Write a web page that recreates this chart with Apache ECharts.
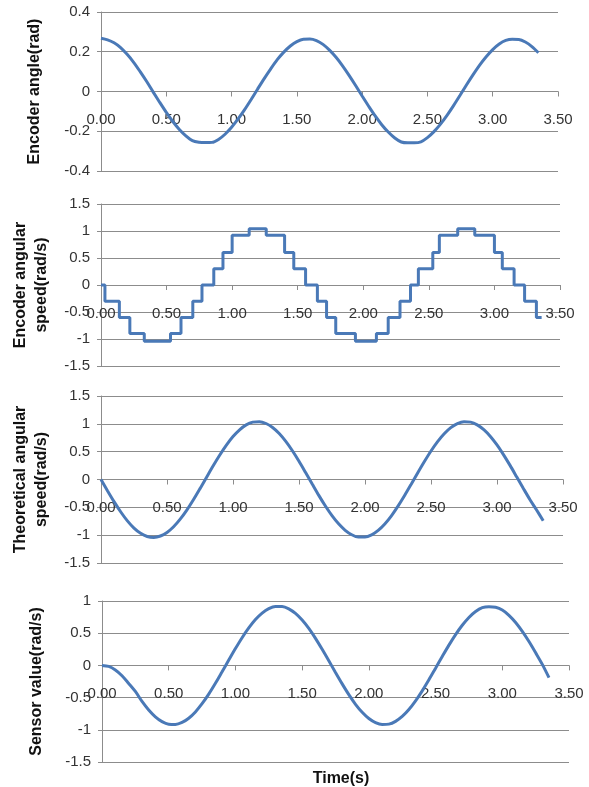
<!DOCTYPE html>
<html>
<head>
<meta charset="utf-8">
<script src="https://cdn.jsdelivr.net/npm/echarts@6/dist/echarts.min.js"></script>
<style>
html,body{margin:0;padding:0;background:#fff;}
#chart{width:589px;height:787px;}
</style>
</head>
<body>
<div id="chart"></div>
<script>
// Time samples (s)
var timeS = [0,0.05,0.10,0.15,0.20,0.25,0.30,0.35,0.40,0.45,0.50,0.55,0.60,0.65,0.70,0.75,0.80,0.85,0.90,0.95,
  1.00,1.05,1.10,1.15,1.20,1.25,1.30,1.35,1.40,1.45,1.50,1.55,1.60,1.65,1.70,1.75,1.80,1.85,1.90,1.95,
  2.00,2.05,2.10,2.15,2.20,2.25,2.30,2.35,2.40,2.45,2.50,2.55,2.60,2.65,2.70,2.75,2.80,2.85,2.90,2.95,
  3.00,3.05,3.10,3.15,3.20,3.25,3.30,3.35];

// Encoder angle (rad)
var encoderAngle = [0.268,0.260,0.245,0.221,0.187,0.147,0.100,0.050,-0.003,-0.055,-0.105,-0.151,-0.191,-0.223,-0.247,-0.255,-0.257,-0.256,-0.241,-0.215,
  -0.180,-0.138,-0.091,-0.040,0.013,0.065,0.114,0.160,0.198,0.229,0.251,0.263,0.264,0.256,0.237,0.208,0.172,0.129,0.081,0.030,
  -0.023,-0.074,-0.123,-0.167,-0.204,-0.234,-0.254,-0.258,-0.258,-0.253,-0.232,-0.202,-0.164,-0.120,-0.071,-0.019,0.034,0.085,0.133,0.175,
  0.211,0.239,0.257,0.263,0.262,0.249,0.226,0.195];

// Encoder angular speed (rad/s): step change times and levels
var stepTimes = [0,0.03,0.14,0.22,0.33,0.53,0.61,0.70,0.77,0.86,0.93,1.00,1.13,1.26,1.40,1.47,1.56,1.65,1.72,1.79,
  1.94,2.10,2.19,2.28,2.36,2.42,2.53,2.58,2.72,2.85,3.00,3.06,3.15,3.23,3.32,3.36];
var stepLevels = [0,-0.3,-0.6,-0.9,-1.04,-0.9,-0.6,-0.3,0,0.3,0.6,0.92,1.04,0.92,0.6,0.3,0,-0.3,-0.6,-0.9,
  -1.04,-0.9,-0.6,-0.3,0,0.3,0.6,0.92,1.04,0.92,0.6,0.3,0,-0.3,-0.6,-0.6];

// Theoretical angular speed (rad/s)
var theoreticalSpeed = [0,-0.205,-0.402,-0.584,-0.743,-0.872,-0.966,-1.023,-1.040,-1.015,-0.951,-0.849,-0.713,-0.549,-0.364,-0.164,0.042,0.246,0.440,0.617,
  0.771,0.893,0.981,1.030,1.038,1.006,0.933,0.825,0.684,0.516,0.327,0.125,-0.081,-0.285,-0.477,-0.650,-0.797,-0.913,-0.993,-1.035,
  -1.035,-0.994,-0.914,-0.799,-0.652,-0.479,-0.288,-0.085,0.122,0.323,0.512,0.681,0.823,0.932,1.005,1.038,1.031,0.982,0.895,0.773,
  0.620,0.443,0.249,0.044,-0.162,-0.363,-0.548,-0.740];

// Sensor value (rad/s)
var sensorValue = [0,-0.015,-0.070,-0.160,-0.280,-0.405,-0.560,-0.693,-0.798,-0.873,-0.913,-0.917,-0.886,-0.820,-0.722,-0.595,-0.446,-0.278,-0.099,0.082,
  0.261,0.430,0.581,0.711,0.811,0.881,0.916,0.915,0.878,0.807,0.704,0.574,0.420,0.250,0.072,-0.110,-0.287,-0.454,-0.604,-0.728,
  -0.825,-0.889,-0.918,-0.912,-0.869,-0.793,-0.686,-0.551,-0.395,-0.224,-0.043,0.138,0.315,0.479,0.624,0.745,0.837,0.896,0.912,0.902,
  0.859,0.778,0.666,0.528,0.370,0.196,0.016,-0.190];

var xTicks = {min: 0, max: 3.5, interval: 0.5};
var yNames = ['Encoder angle(rad)', 'Encoder angular\nspeed(rad/s)', 'Theoretical angular\nspeed(rad/s)', 'Sensor value(rad/s)'];
var yRanges = [[-0.4, 0.4, 0.2], [-1.5, 1.5, 0.5], [-1.5, 1.5, 0.5], [-1.5, 1, 0.5]];

function pairs(xs, ys) { return xs.map(function (x, i) { return [x, ys[i]]; }); }

var grids = [
  {left: 101, top: 12, width: 457, height: 159},
  {left: 101, top: 204, width: 459, height: 162},
  {left: 101, top: 396, width: 462, height: 167},
  {left: 102, top: 601, width: 467, height: 161}
];
var nameGaps = [56, 49, 49, 55];

var GRAY = '#8c8c8c';
var LINE = '#4a79b7';
var FONT = '"Liberation Sans", Arial, sans-serif';

var xAxes = grids.map(function (g, i) {
  var r = yRanges[i];
  // move the time axis up so that it crosses the value axis at zero (Excel style)
  var off = -g.height * (0 - r[0]) / (r[1] - r[0]);
  return {
    gridIndex: i, type: 'value', min: xTicks.min, max: xTicks.max, interval: xTicks.interval,
    position: 'bottom', offset: off,
    axisLine: {show: true, onZero: false, lineStyle: {color: GRAY, width: 1}},
    axisTick: {show: true, length: 5, lineStyle: {color: GRAY}},
    splitLine: {show: false},
    axisLabel: {margin: 21, fontSize: 15, color: '#333', fontFamily: FONT,
      formatter: function (v) { return v.toFixed(2); }}
  };
});
var yAxes = grids.map(function (g, i) {
  var r = yRanges[i];
  return {
    gridIndex: i, type: 'value', min: r[0], max: r[1], interval: r[2],
    name: yNames[i], nameLocation: 'middle', nameRotate: 90, nameGap: nameGaps[i],
    nameTextStyle: {fontSize: 16, fontWeight: 'bold', color: '#111', fontFamily: FONT, lineHeight: 21},
    axisLine: {show: true, onZero: false, lineStyle: {color: GRAY, width: 1}},
    axisTick: {show: true, length: 4, lineStyle: {color: GRAY}},
    splitLine: {show: true, lineStyle: {color: GRAY, width: 1}},
    axisLabel: {margin: 11, fontSize: 15, color: '#333', fontFamily: FONT}
  };
});

var lineStyle = {color: LINE, width: 3};
var series = [
  {type: 'line', xAxisIndex: 0, yAxisIndex: 0, data: pairs(timeS, encoderAngle), smooth: 0.3, showSymbol: false, lineStyle: lineStyle},
  {type: 'line', xAxisIndex: 1, yAxisIndex: 1, data: pairs(stepTimes, stepLevels), step: 'end', showSymbol: false, lineStyle: lineStyle},
  {type: 'line', xAxisIndex: 2, yAxisIndex: 2, data: pairs(timeS, theoreticalSpeed), smooth: 0.3, showSymbol: false, lineStyle: lineStyle},
  {type: 'line', xAxisIndex: 3, yAxisIndex: 3, data: pairs(timeS, sensorValue), smooth: 0.3, showSymbol: false, lineStyle: lineStyle}
];

var chart = echarts.init(document.getElementById('chart'), null, {renderer: 'canvas'});
chart.setOption({
  animation: false,
  backgroundColor: '#fff',
  title: {text: 'Time(s)', left: 336, top: 766, textAlign: 'center',
    textStyle: {fontSize: 16, fontWeight: 'bold', color: '#111', fontFamily: FONT}},
  grid: grids,
  xAxis: xAxes,
  yAxis: yAxes,
  series: series
});
</script>
</body>
</html>
